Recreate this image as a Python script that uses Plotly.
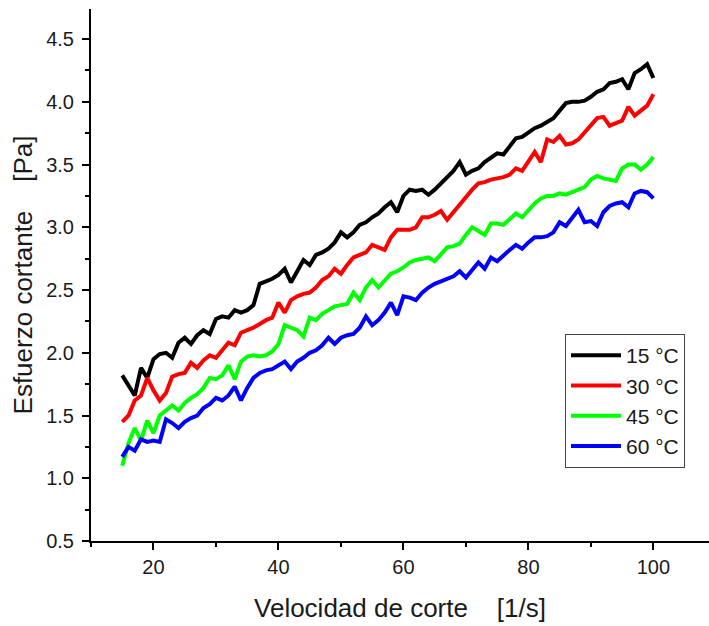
import plotly.graph_objects as go

shear_rate = list(range(15, 101))

stress_15C = [1.82, 1.74, 1.66, 1.88, 1.80, 1.95, 1.99, 2.00, 1.96, 2.08, 2.12, 2.07, 2.14, 2.18, 2.15,
              2.27, 2.29, 2.28, 2.34, 2.32, 2.34, 2.38, 2.55, 2.57, 2.59, 2.62, 2.67, 2.56, 2.65, 2.74,
              2.70, 2.78, 2.80, 2.83, 2.88, 2.96, 2.92, 2.96, 3.02, 3.04, 3.08, 3.11, 3.16, 3.20, 3.12,
              3.25, 3.30, 3.29, 3.30, 3.26, 3.30, 3.35, 3.40, 3.45, 3.52, 3.42, 3.45, 3.47, 3.52, 3.56,
              3.59, 3.58, 3.64, 3.71, 3.72, 3.76, 3.79, 3.81, 3.84, 3.87, 3.93, 3.99, 4.00, 4.00, 4.01,
              4.04, 4.08, 4.10, 4.15, 4.16, 4.18, 4.10, 4.23, 4.26, 4.30, 4.19]

stress_30C = [1.45, 1.50, 1.62, 1.66, 1.80, 1.70, 1.62, 1.68, 1.81, 1.83, 1.84, 1.92, 1.88, 1.94, 1.98,
              1.96, 2.02, 2.08, 2.06, 2.16, 2.18, 2.20, 2.23, 2.26, 2.28, 2.40, 2.32, 2.42, 2.45, 2.47,
              2.48, 2.52, 2.58, 2.61, 2.67, 2.63, 2.70, 2.76, 2.78, 2.80, 2.86, 2.84, 2.82, 2.92, 2.98,
              2.98, 2.98, 3.00, 3.08, 3.08, 3.10, 3.13, 3.06, 3.12, 3.18, 3.25, 3.30, 3.35, 3.36, 3.38,
              3.39, 3.40, 3.42, 3.47, 3.45, 3.53, 3.60, 3.52, 3.70, 3.68, 3.73, 3.66, 3.67, 3.70, 3.76,
              3.82, 3.87, 3.88, 3.81, 3.83, 3.85, 3.96, 3.89, 3.93, 3.97, 4.06]

stress_45C = [1.10, 1.28, 1.40, 1.30, 1.46, 1.36, 1.50, 1.54, 1.58, 1.54, 1.60, 1.64, 1.67, 1.72, 1.80,
              1.79, 1.82, 1.90, 1.79, 1.93, 1.97, 1.98, 1.97, 1.98, 2.01, 2.07, 2.22, 2.20, 2.18, 2.13,
              2.28, 2.26, 2.31, 2.34, 2.37, 2.38, 2.39, 2.48, 2.42, 2.52, 2.58, 2.52, 2.58, 2.63, 2.65,
              2.68, 2.72, 2.74, 2.75, 2.76, 2.73, 2.78, 2.84, 2.85, 2.87, 2.94, 3.00, 2.97, 2.94, 3.03,
              3.03, 3.02, 3.07, 3.11, 3.08, 3.14, 3.19, 3.23, 3.25, 3.25, 3.27, 3.26, 3.28, 3.30, 3.32,
              3.38, 3.41, 3.39, 3.38, 3.37, 3.47, 3.50, 3.50, 3.46, 3.50, 3.56]

stress_60C = [1.17, 1.25, 1.22, 1.31, 1.29, 1.30, 1.29, 1.47, 1.44, 1.40, 1.45, 1.48, 1.50, 1.56, 1.59,
              1.64, 1.62, 1.66, 1.73, 1.62, 1.72, 1.80, 1.84, 1.86, 1.87, 1.90, 1.93, 1.87, 1.93, 1.96,
              2.00, 2.02, 2.06, 2.12, 2.07, 2.12, 2.14, 2.15, 2.20, 2.29, 2.22, 2.26, 2.32, 2.40, 2.30,
              2.45, 2.44, 2.42, 2.48, 2.52, 2.55, 2.57, 2.59, 2.61, 2.65, 2.60, 2.66, 2.72, 2.67, 2.76,
              2.73, 2.78, 2.82, 2.86, 2.83, 2.88, 2.92, 2.92, 2.93, 2.96, 3.04, 3.01, 3.08, 3.14, 3.04,
              3.05, 3.01, 3.12, 3.17, 3.19, 3.20, 3.16, 3.27, 3.29, 3.28, 3.23]

series_names = ["15 °C", "30 °C", "45 °C", "60 °C"]
series_values = [stress_15C, stress_30C, stress_45C, stress_60C]
series_colors = ["#000000", "#ff0000", "#00ff00", "#0000ff"]

x_title = "Velocidad de corte\u00a0\u00a0\u00a0\u00a0[1/s]"
y_title = "Esfuerzo cortante\u00a0\u00a0\u00a0\u00a0[Pa]"

FONT = "Arial, 'Liberation Sans', sans-serif"
TXT = "#1a1a1a"

fig = go.Figure()
for name, vals, col in zip(series_names, series_values, series_colors):
    fig.add_trace(go.Scatter(x=shear_rate, y=vals, mode="lines", name=name,
                             line=dict(color=col, width=4)))

axis_common = dict(
    showline=True, linecolor="#000000", linewidth=2,
    ticks="outside", ticklen=7, tickwidth=2, tickcolor="#000000",
    showgrid=False, zeroline=False, mirror=False,
    tickfont=dict(family=FONT, size=20, color=TXT),
    title_font=dict(family=FONT, size=26, color=TXT),
)

fig.update_xaxes(range=[10, 108.9], tick0=20, dtick=20,
                 minor=dict(ticks="outside", ticklen=4, tickwidth=2, tickcolor="#000000", dtick=10, tick0=0),
                 title_text=x_title, title_standoff=22, ticklabelstandoff=0,
                 **axis_common)
fig.update_yaxes(range=[0.5, 4.74], tick0=0.5, dtick=0.5, tickformat=".1f",
                 minor=dict(ticks="outside", ticklen=4, tickwidth=2, tickcolor="#000000", dtick=0.25, tick0=0.5),
                 title_text=y_title, title_standoff=6, ticklabelstandoff=4,
                 **axis_common)

fig.update_layout(
    width=709, height=626,
    margin=dict(l=91, r=0, t=9, b=85, pad=0),
    plot_bgcolor="white", paper_bgcolor="white",
    font=dict(family=FONT, color=TXT),
    legend=dict(x=0.767, y=0.389, xanchor="left", yanchor="top",
                bgcolor="white", bordercolor="#444444", borderwidth=1,
                font=dict(family=FONT, size=21, color=TXT),
                tracegroupgap=0, itemwidth=50),
)

fig.write_html("out.html")
